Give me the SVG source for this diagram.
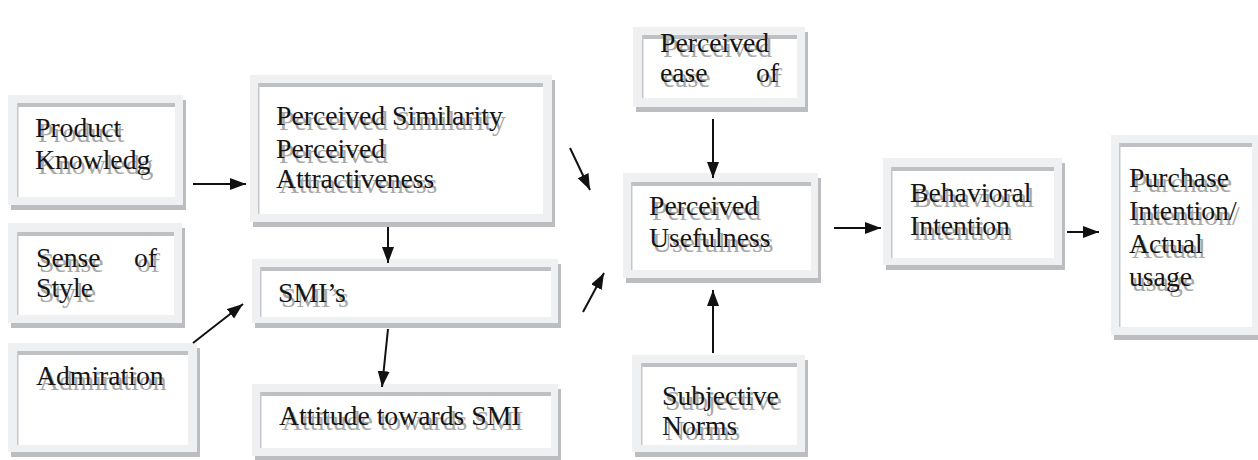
<svg xmlns="http://www.w3.org/2000/svg" xmlns:xlink="http://www.w3.org/1999/xlink" width="1258" height="460" viewBox="0 0 1258 460">
<defs>
<style>
.sh{fill:#bcbdc0}
.fr{fill:#eff0f2}
.in{fill:#ffffff}
.tb{fill:#bfc0c3}
.lb{fill:#c6c7ca}
.tx{font-family:"Liberation Serif","Times New Roman",serif;font-size:27.7px}
.lbl{fill:#151515}
.conn line{stroke:#111;stroke-width:2;fill:none;marker-end:url(#ah)}
</style>
<marker id="ah" markerUnits="userSpaceOnUse" markerWidth="17" markerHeight="13" refX="16" refY="6" orient="auto">
<path d="M0,0 L16,6 L0,12 z" fill="#111"/>
</marker>
</defs>
<rect width="1258" height="460" fill="#ffffff"/>

<g id="product">
<rect class="sh" x="11" y="100" width="175" height="110"/>
<rect class="fr" x="8" y="95" width="175" height="110"/>
<rect class="in" x="17" y="103" width="158" height="94"/>
<rect class="tb" x="17" y="103" width="158" height="4"/>
<rect class="lb" x="17" y="103" width="1.5" height="94"/>
<g class="lbl"><use xlink:href="#t_prod" fill="#a8a8a8" transform="translate(3,5)"/><text id="t_prod" class="tx"><tspan x="35" y="137">Product</tspan><tspan x="35" y="169">Knowledg</tspan></text></g>
</g>

<g id="sense">
<rect class="sh" x="11" y="228" width="174" height="100"/>
<rect class="fr" x="8" y="223" width="174" height="100"/>
<rect class="in" x="17" y="232" width="157" height="83"/>
<rect class="tb" x="17" y="232" width="157" height="4"/>
<rect class="lb" x="17" y="232" width="1.5" height="83"/>
<g class="lbl"><use xlink:href="#t_sense" fill="#a8a8a8" transform="translate(3,5)"/><text id="t_sense" class="tx"><tspan x="36" y="267">Sense</tspan><tspan x="134" y="267">of</tspan><tspan x="36" y="297">Style</tspan></text></g>
</g>

<g id="admiration">
<rect class="sh" x="11" y="348" width="189" height="109"/>
<rect class="fr" x="8" y="343" width="189" height="109"/>
<rect class="in" x="17" y="351" width="171" height="94"/>
<rect class="tb" x="17" y="351" width="171" height="4"/>
<rect class="lb" x="17" y="351" width="1.5" height="94"/>
<g class="lbl"><use xlink:href="#t_adm" fill="#a8a8a8" transform="translate(3,5)"/><text id="t_adm" class="tx" x="36" y="385">Admiration</text></g>
</g>

<g id="similarity">
<rect class="sh" x="253" y="80" width="302" height="147"/>
<rect class="fr" x="250" y="75" width="302" height="147"/>
<rect class="in" x="258" y="83" width="285" height="131"/>
<rect class="tb" x="258" y="83" width="285" height="4"/>
<rect class="lb" x="258" y="83" width="1.5" height="131"/>
<g class="lbl"><use xlink:href="#t_sim" fill="#a8a8a8" transform="translate(3,5)"/><text id="t_sim" class="tx"><tspan x="276" y="125">Perceived Similarity</tspan><tspan x="276" y="158">Perceived</tspan><tspan x="276" y="188">Attractiveness</tspan></text></g>
</g>

<g id="smis">
<rect class="sh" x="255" y="264" width="306" height="64"/>
<rect class="fr" x="252" y="259" width="306" height="64"/>
<rect class="in" x="260" y="267" width="291" height="50"/>
<rect class="tb" x="260" y="267" width="291" height="4"/>
<rect class="lb" x="260" y="267" width="1.5" height="50"/>
<g class="lbl"><use xlink:href="#t_smi" fill="#a8a8a8" transform="translate(3,5)"/><text id="t_smi" class="tx" x="278" y="302">SMI’s</text></g>
</g>

<g id="attitude">
<rect class="sh" x="255" y="389" width="306" height="72"/>
<rect class="fr" x="252" y="384" width="306" height="72"/>
<rect class="in" x="260" y="392" width="291" height="56"/>
<rect class="tb" x="260" y="392" width="291" height="4"/>
<rect class="lb" x="260" y="392" width="1.5" height="56"/>
<g class="lbl"><use xlink:href="#t_att" fill="#a8a8a8" transform="translate(3,5)"/><text id="t_att" class="tx" x="279" y="425">Attitude towards SMI</text></g>
</g>

<g id="ease">
<rect class="sh" x="636" y="32" width="172" height="80"/>
<rect class="fr" x="633" y="27" width="172" height="80"/>
<rect class="in" x="642" y="35" width="155" height="63"/>
<rect class="tb" x="642" y="35" width="155" height="4"/>
<rect class="lb" x="642" y="35" width="1.5" height="63"/>
<g class="lbl"><use xlink:href="#t_ease" fill="#a8a8a8" transform="translate(3,5)"/><text id="t_ease" class="tx"><tspan x="660" y="52">Perceived</tspan><tspan x="660" y="82">ease</tspan><tspan x="756" y="82">of</tspan></text></g>
</g>

<g id="usefulness">
<rect class="sh" x="626" y="178" width="195" height="105"/>
<rect class="fr" x="623" y="173" width="195" height="105"/>
<rect class="in" x="631" y="182" width="180" height="88"/>
<rect class="tb" x="631" y="182" width="180" height="4"/>
<rect class="lb" x="631" y="182" width="1.5" height="88"/>
<g class="lbl"><use xlink:href="#t_use" fill="#a8a8a8" transform="translate(3,5)"/><text id="t_use" class="tx"><tspan x="649" y="215">Perceived</tspan><tspan x="649" y="247">Usefulness</tspan></text></g>
</g>

<g id="subjective">
<rect class="sh" x="635" y="360" width="173" height="97"/>
<rect class="fr" x="632" y="355" width="173" height="97"/>
<rect class="in" x="641" y="363" width="156" height="82"/>
<rect class="tb" x="641" y="363" width="156" height="4"/>
<rect class="lb" x="641" y="363" width="1.5" height="82"/>
<g class="lbl"><use xlink:href="#t_sub" fill="#a8a8a8" transform="translate(3,5)"/><text id="t_sub" class="tx"><tspan x="662" y="405">Subjective</tspan><tspan x="662" y="435">Norms</tspan></text></g>
</g>

<g id="behavioral">
<rect class="sh" x="886" y="163" width="179" height="107"/>
<rect class="fr" x="883" y="158" width="179" height="107"/>
<rect class="in" x="891" y="167" width="163" height="91"/>
<rect class="tb" x="891" y="167" width="163" height="4"/>
<rect class="lb" x="891" y="167" width="1.5" height="91"/>
<g class="lbl"><use xlink:href="#t_beh" fill="#a8a8a8" transform="translate(3,5)"/><text id="t_beh" class="tx"><tspan x="910" y="202">Behavioral</tspan><tspan x="910" y="235">Intention</tspan></text></g>
</g>

<g id="purchase">
<rect class="sh" x="1114" y="140" width="160" height="200"/>
<rect class="fr" x="1111" y="135" width="160" height="200"/>
<rect class="in" x="1119" y="143" width="133" height="184"/>
<rect class="tb" x="1119" y="143" width="133" height="4"/>
<rect class="lb" x="1119" y="143" width="1.5" height="184"/>
<g class="lbl"><use xlink:href="#t_pur" fill="#a8a8a8" transform="translate(3,5)"/><text id="t_pur" class="tx"><tspan x="1129" y="187">Purchase</tspan><tspan x="1129" y="220">Intention/</tspan><tspan x="1129" y="253">Actual</tspan><tspan x="1129" y="286">usage</tspan></text></g>
</g>

<g id="connectors" class="conn">
<line x1="193" y1="184" x2="246" y2="184"/>
<line x1="388" y1="227" x2="388" y2="263"/>
<line x1="193" y1="343" x2="243" y2="304"/>
<line x1="388" y1="329" x2="382" y2="387"/>
<line x1="570" y1="148" x2="590" y2="190"/>
<line x1="583" y1="312" x2="604" y2="273"/>
<line x1="713" y1="119" x2="713" y2="178"/>
<line x1="713" y1="353" x2="713" y2="290"/>
<line x1="834" y1="228" x2="881" y2="228"/>
<line x1="1067" y1="232" x2="1099" y2="232"/>
</g>
</svg>
